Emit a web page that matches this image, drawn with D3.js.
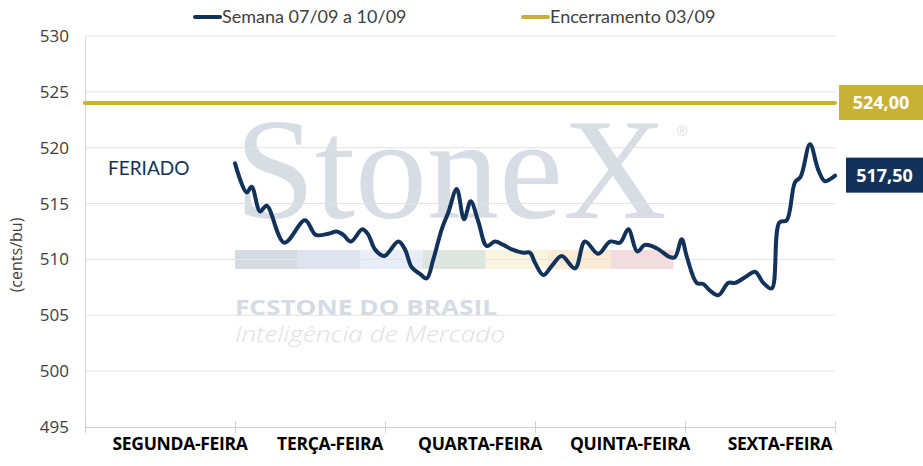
<!DOCTYPE html>
<html>
<head>
<meta charset="utf-8">
<script src="https://cdn.jsdelivr.net/npm/d3@7"></script>
<style>
  body { margin: 0; background: #fff; }
  svg { display: block; }
</style>
</head>
<body>
<div id="chart"></div>
<script>
// dias da semana (categorias do eixo x)
var dias = ["SEGUNDA-FEIRA", "TERÇA-FEIRA", "QUARTA-FEIRA", "QUINTA-FEIRA", "SEXTA-FEIRA"];
var yTicks = [495, 500, 505, 510, 515, 520, 525, 530];

// semana 07/09 a 10/09 - tempo em dias (0 = inicio de segunda) e preco em cents/bu
var tempo = [1.000, 1.078, 1.111, 1.167, 1.211, 1.329, 1.467, 1.538, 1.622, 1.678,
  1.722, 1.773, 1.849, 1.889, 1.933, 1.995, 2.089, 2.133, 2.178, 2.233,
  2.278, 2.322, 2.378, 2.422, 2.478, 2.527, 2.571, 2.622, 2.678, 2.733,
  2.789, 2.845, 2.921, 2.967, 3.000, 3.055, 3.111, 3.178, 3.267, 3.333,
  3.422, 3.500, 3.567, 3.622, 3.682, 3.733, 3.811, 3.900, 3.933, 3.978,
  4.011, 4.078, 4.122, 4.167, 4.222, 4.289, 4.333, 4.411, 4.467, 4.522,
  4.578, 4.629, 4.678, 4.733, 4.771, 4.833, 4.889, 4.933, 5.000];
var preco = [518.6, 516.0, 516.5, 514.3, 514.8, 511.5, 513.5, 512.2, 512.3, 512.5,
  512.2, 511.6, 512.7, 512.2, 510.9, 510.3, 511.6, 510.9, 509.3, 508.7,
  508.3, 510.0, 512.7, 514.2, 516.3, 513.6, 515.2, 513.4, 511.2, 511.6,
  511.3, 510.9, 510.6, 510.6, 509.7, 508.6, 509.4, 510.3, 509.2, 511.6,
  510.5, 511.6, 511.5, 512.7, 510.7, 511.3, 511.0, 510.2, 510.2, 511.8,
  510.3, 507.9, 507.8, 507.2, 506.8, 507.9, 507.9, 508.5, 508.9, 507.9,
  507.4, 513.3, 513.5, 516.9, 517.4, 520.3, 518.0, 517.0, 517.5];

// encerramento 03/09
var encerramento = 524.00;
var ultimo = 517.50;

var legenda = ["Semana 07/09 a 10/09", "Encerramento 03/09"];
var corSemana = "#13325A", corEnc = "#C9B135";

var width = 923, height = 466;
var margin = {top: 36, right: 88, bottom: 39, left: 85};

var svg = d3.select("#chart").append("svg").attr("width", width).attr("height", height);

var x = d3.scaleLinear().domain([0, dias.length]).range([margin.left, width - margin.right]);
var y = d3.scaleLinear().domain([495, 530]).range([height - margin.bottom, margin.top]);

// marca d'agua
var wm = svg.append("g");
wm.append("text").attr("x", 235).attr("y", 218).text("StoneX")
  .attr("font-family", "Liberation Serif").attr("font-size", 144).attr("fill", "#D6DDE5");
wm.append("text").attr("x", 677).attr("y", 136).text("®")
  .attr("font-family", "Liberation Sans").attr("font-size", 14).attr("fill", "#D6DDE5");
var faixa = ["#D5DBE3", "#DDE4EE", "#E7EEF7", "#DCE6DF", "#F8F4DF", "#FBEBD4", "#F4DCDE"];
wm.selectAll(".faixa").data(faixa).enter().append("rect")
  .attr("x", function(d, i) { return 235 + i * 62.6; }).attr("y", 250)
  .attr("width", 62.8).attr("height", 19).attr("fill", function(d) { return d; });
wm.append("text").attr("x", 235).attr("y", 315).text("FCSTONE DO BRASIL")
  .attr("font-family", "Open Sans").attr("font-weight", "bold").attr("font-size", 22)
  .attr("textLength", 262).attr("lengthAdjust", "spacingAndGlyphs").attr("fill", "#D5DBE3");
wm.append("text").attr("x", 235).attr("y", 342).text("Inteligência de Mercado")
  .attr("font-family", "Open Sans").attr("font-style", "italic").attr("font-weight", 300).attr("font-size", 22)
  .attr("textLength", 270).attr("lengthAdjust", "spacingAndGlyphs").attr("fill", "#DCE1E8");

// grade
svg.append("g").selectAll("line").data(yTicks.slice(1)).enter().append("line")
  .attr("x1", x(0)).attr("x2", x(dias.length))
  .attr("y1", function(d) { return y(d); }).attr("y2", function(d) { return y(d); })
  .attr("stroke", "#E3E3E3").attr("stroke-width", 1);

// eixo y
var yAxis = svg.append("g").attr("transform", "translate(" + margin.left + ",0)")
  .call(d3.axisLeft(y).tickValues(yTicks).tickSize(0).tickPadding(16));
yAxis.select(".domain").attr("stroke", "#D9D9D9");
yAxis.selectAll("text").attr("font-family", "Open Sans").attr("font-size", 17).attr("fill", "#404040");

svg.append("text").attr("transform", "translate(22,255) rotate(-90)").attr("text-anchor", "middle")
  .text("(cents/bu)").attr("font-family", "Open Sans").attr("font-size", 16).attr("fill", "#404040");

// eixo x
var xAxis = svg.append("g").attr("transform", "translate(0," + y(495) + ")")
  .call(d3.axisBottom(x).tickValues(d3.range(dias.length + 1)).tickSize(6).tickSizeOuter(0).tickFormat(""));
xAxis.select(".domain").attr("stroke", "#D0D0D0");
xAxis.selectAll(".tick line").attr("stroke", "#D0D0D0").attr("y1", -6);

svg.append("g").selectAll("text").data(dias).enter().append("text")
  .attr("x", function(d, i) { return x(i + 0.5) + 20; }).attr("y", 450)
  .attr("text-anchor", "middle").text(function(d) { return d; })
  .attr("font-family", "Open Sans").attr("font-weight", "bold").attr("font-size", 17.5)
  .attr("letter-spacing", -0.3).attr("fill", "#000");

// feriado
svg.append("text").attr("x", 108).attr("y", 175).text("FERIADO")
  .attr("font-family", "Lato").attr("font-size", 19).attr("fill", corSemana);

// encerramento 03/09
svg.append("line").attr("x1", x(0)).attr("x2", x(dias.length))
  .attr("y1", y(encerramento)).attr("y2", y(encerramento))
  .attr("stroke", corEnc).attr("stroke-width", 4).attr("stroke-linecap", "round");

// semana
var dados = tempo.map(function(t, i) { return {t: t, v: preco[i]}; });
var line = d3.line().x(function(d) { return x(d.t); }).y(function(d) { return y(d.v); })
  .curve(d3.curveCatmullRom.alpha(0.5));
svg.append("path").attr("d", line(dados)).attr("fill", "none")
  .attr("stroke", corSemana).attr("stroke-width", 4).attr("stroke-linejoin", "round").attr("stroke-linecap", "round");

// rotulos da direita
function rotulo(v, cor, x0) {
  svg.append("rect").attr("x", x0).attr("y", y(v) - 18).attr("width", width - x0).attr("height", 35).attr("fill", cor);
  svg.append("text").attr("x", (x0 + width) / 2).attr("y", y(v) + 6).attr("text-anchor", "middle")
    .text(d3.format(".2f")(v).replace(".", ",")).attr("font-family", "Open Sans").attr("font-weight", "bold")
    .attr("font-size", 18).attr("fill", "#fff");
}
rotulo(encerramento, corEnc, 839);
rotulo(ultimo, corSemana, 846);

// legenda
var leg = svg.append("g").selectAll("g").data(legenda).enter().append("g")
  .attr("transform", function(d, i) { return "translate(" + [195, 523][i] + ",17)"; });
leg.append("line").attr("x1", 0).attr("x2", 25).attr("stroke-width", 4).attr("stroke-linecap", "round")
  .attr("stroke", function(d, i) { return i == 0 ? corSemana : corEnc; });
leg.append("text").attr("x", 27).attr("y", 6).text(function(d) { return d; })
  .attr("font-family", "Lato").attr("font-size", 18).attr("fill", "#404040");
</script>
</body>
</html>
